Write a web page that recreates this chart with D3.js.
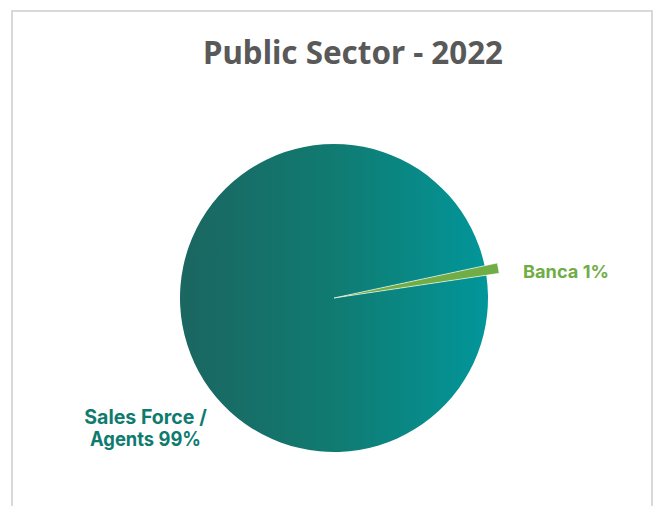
<!DOCTYPE html>
<html>
<head>
<meta charset="utf-8">
<script src="https://cdn.jsdelivr.net/npm/d3@7/dist/d3.min.js"></script>
<style>
  html, body { margin: 0; padding: 0; background: #ffffff; }
  svg { display: block; }
</style>
</head>
<body>
<script>
// Distribution channels, Public Sector 2022
const categories = ["Sales Force / Agents", "Banca"];
const shares = [99, 1];
const labelLines = [["Sales Force /", "Agents 99%"], ["Banca 1%"]];
const titleText = "Public Sector - 2022";

const W = 657, H = 506;
const svg = d3.select("body").append("svg")
  .attr("width", W).attr("height", H);

const cx = 334, cy = 298, R = 154;

// horizontal gradient across the pie, in the pie group's own coordinates
const defs = svg.append("defs");
const grad = defs.append("linearGradient")
  .attr("id", "tealGrad")
  .attr("gradientUnits", "userSpaceOnUse")
  .attr("x1", -R).attr("y1", 0).attr("x2", R).attr("y2", 0);
grad.append("stop").attr("offset", "0%").attr("stop-color", "#1b6661");
grad.append("stop").attr("offset", "50%").attr("stop-color", "#107b71");
grad.append("stop").attr("offset", "100%").attr("stop-color", "#02969a");

// chart frame
svg.append("rect")
  .attr("x", 12).attr("y", 11)
  .attr("width", 640).attr("height", 520)
  .attr("fill", "none")
  .attr("stroke", "#d9d9d9")
  .attr("stroke-width", 2);

// fit a text element to a target width
function fitWidth(sel, w) {
  sel.each(function () {
    const len = this.getComputedTextLength();
    if (len > 0) {
      d3.select(this).attr("textLength", w).attr("lengthAdjust", "spacingAndGlyphs");
    }
  });
}

// title
const title = svg.append("text")
  .attr("x", 203).attr("y", 64.3)
  .attr("font-family", "'Liberation Sans Narrow', 'Noto Sans', sans-serif")
  .attr("font-weight", "bold")
  .attr("font-size", 32)
  .attr("fill", "#595959")
  .text(titleText);
fitWidth(title, 300);

// pie
const deg = Math.PI / 180;
const bancaStart = 77.9 * deg;
const total = d3.sum(shares);
const start = bancaStart - (shares[0] / total) * 2 * Math.PI;
const pie = d3.pie()
  .sort(null)
  .value(d => d)
  .startAngle(start)
  .endAngle(start + 2 * Math.PI);
const arcs = pie(shares);

const g = svg.append("g").attr("transform", `translate(${cx},${cy})`);
const mainArc = d3.arc().innerRadius(0).outerRadius(R);
const popArc = d3.arc().innerRadius(0).outerRadius(167);

const fills = ["url(#tealGrad)", "#70ad47"];
g.selectAll("path.slice")
  .data(arcs)
  .join("path")
  .attr("class", "slice")
  .attr("d", (d, i) => (i === 1 ? popArc(d) : mainArc(d)))
  .attr("fill", (d, i) => fills[i])
  .attr("stroke", "#ffffff")
  .attr("stroke-width", (d, i) => (i === 1 ? 0.6 : 0))
  .attr("stroke-linejoin", "round");

// data labels
const labelFont = "Inter, 'Open Sans', sans-serif";
const bancaLabel = svg.append("text")
  .attr("x", 523).attr("y", 277.7)
  .attr("font-family", labelFont)
  .attr("font-weight", "bold")
  .attr("font-size", 17.5)
  .attr("fill", "#70ad47")
  .text(labelLines[1][0]);
fitWidth(bancaLabel, 86);

const salesLabel = svg.append("g");
const salesWidths = [122.5, 111];
const salesBase = [424.3, 446];
labelLines[0].forEach((line, i) => {
  const t = salesLabel.append("text")
    .attr("x", 145.5).attr("y", salesBase[i])
    .attr("text-anchor", "middle")
    .attr("font-family", labelFont)
    .attr("font-weight", "bold")
    .attr("font-size", 19.5)
    .attr("fill", "#0f7b6f")
    .text(line);
  fitWidth(t, salesWidths[i]);
});
</script>
</body>
</html>
